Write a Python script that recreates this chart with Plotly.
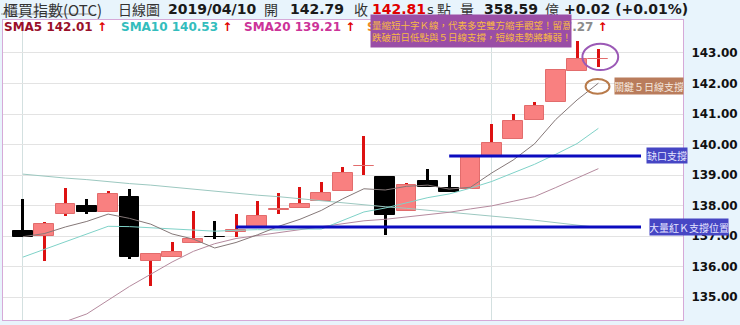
import plotly.graph_objects as go

# ---------------- data ----------------
open_ = [137.16, 137.00, 137.72, 137.98, 137.79, 138.28, 136.18, 136.31, 136.77, 136.98,
         137.13, 137.30, 137.87, 137.92, 138.15, 138.48, 139.28, 138.93, 137.82, 138.80,
         138.57, 138.54, 139.62, 140.18, 140.80, 141.39, 142.41, 142.79]
close = [136.97, 137.39, 138.05, 137.79, 138.38, 136.31, 136.41, 136.48, 136.90, 136.96,
         137.20, 137.66, 137.90, 138.05, 138.41, 139.07, 139.31, 137.69, 138.67, 138.61,
         138.44, 139.59, 140.05, 140.77, 141.26, 142.44, 142.80, 142.81]
high = [138.21, 137.46, 138.57, 138.21, 138.48, 138.54, 136.41, 136.80, 137.82, 137.49,
        137.72, 138.15, 138.41, 138.61, 138.77, 139.26, 140.28, 138.93, 138.74, 139.20,
        139.00, 139.59, 140.67, 141.00, 141.39, 142.48, 143.39, 143.13]
low = [136.97, 136.18, 137.66, 137.72, 137.79, 136.25, 135.36, 136.31, 136.77, 136.90,
       136.97, 137.30, 137.72, 137.92, 138.15, 138.48, 139.00, 137.03, 137.82, 138.61,
       138.44, 138.54, 139.62, 140.18, 140.80, 141.39, 142.41, 142.54]

sma5 = [136.98, 137.08, 137.30, 137.48, 137.72, 137.58, 137.39, 137.07, 136.90, 136.61,
        136.79, 137.04, 137.32, 137.55, 137.84, 138.22, 138.55, 138.51, 138.63, 138.67,
        138.54, 138.60, 139.07, 139.49, 140.02, 140.82, 141.46, 142.01]
sma10 = [136.31, 136.56, 136.81, 137.06, 137.32, 137.31, 137.27, 137.23, 137.19, 137.16,
         137.19, 137.21, 137.20, 137.23, 137.23, 137.50, 137.79, 137.92, 138.09, 138.26,
         138.38, 138.57, 138.79, 139.06, 139.35, 139.68, 140.03, 140.53]
sma20 = [133.60, 133.90, 134.20, 134.45, 134.90, 135.35, 135.75, 136.15, 136.50, 136.75,
         136.92, 137.02, 137.12, 137.22, 137.32, 137.42, 137.50, 137.55, 137.62, 137.71,
         137.78, 137.89, 137.99, 138.14, 138.29, 138.59, 138.91, 139.21]
sma60 = [139.03, 138.96, 138.90, 138.85, 138.78, 138.72, 138.67, 138.60, 138.54, 138.47,
         138.41, 138.34, 138.29, 138.22, 138.17, 138.10, 138.03, 137.96, 137.91, 137.85,
         137.79, 137.72, 137.66, 137.59, 137.52, 137.44, 137.36, 137.28]

x_idx = list(range(len(open_)))
month_starts = [0, 22]
y_ticks = [135, 136, 137, 138, 139, 140, 141, 142, 143]

support_big_red = 137.30
support_gap = 139.62

ma_labels = ["SMA5 142.01", "SMA10 140.53", "SMA20 139.21", "SMA60", "SMA120 137.27"]

# ---------------- layout geometry ----------------
W, H = 740, 325
L, R, T, B = 2, 54, 20, 5
PW, PH = W - L - R, H - T - B


def px_x(px):
    return (px - L) / PW


def px_y(py):
    return 1 - (py - T) / PH


UP_FILL, UP_LINE, UP_WICK = "#f98080", "#e26c6c", "#dd1111"
DN = "#000000"

up = [c >= o for o, c in zip(open_, close)]

fig = go.Figure()

# wicks
fig.add_trace(go.Bar(
    x=x_idx, base=low, y=[h - l for h, l in zip(high, low)], width=0.14,
    marker=dict(color=[UP_WICK if u else DN for u in up], line=dict(width=0)),
    hoverinfo="skip", showlegend=False))

# bodies
fig.add_trace(go.Bar(
    x=x_idx, base=[min(o, c) for o, c in zip(open_, close)],
    y=[abs(c - o) for o, c in zip(open_, close)], width=0.93,
    marker=dict(color=[UP_FILL if u else DN for u in up],
                line=dict(color=[UP_LINE if u else DN for u in up], width=1)),
    hoverinfo="skip", showlegend=False))

# moving averages
for vals, col in [(sma60, "#9cc8c0"), (sma20, "#b58a9e"), (sma10, "#7fd2c8"), (sma5, "#857878")]:
    fig.add_trace(go.Scatter(x=x_idx, y=vals, mode="lines", line=dict(color=col, width=1),
                             hoverinfo="skip", showlegend=False))

# support lines
fig.add_shape(type="line", x0=10, x1=29, y0=support_big_red, y1=support_big_red,
              line=dict(color="#0b0bbf", width=3), layer="above")
fig.add_shape(type="line", x0=20, x1=29, y0=support_gap, y1=support_gap,
              line=dict(color="#0b0bbf", width=3), layer="above")

# ellipses
fig.add_shape(type="circle", x0=26.25, x1=27.93, y0=142.44, y1=143.30,
              line=dict(color="#9b59b6", width=2), layer="above")
fig.add_shape(type="circle", x0=26.40, x1=27.52, y0=141.66, y1=142.15,
              line=dict(color="#b87a4a", width=2), layer="above")

# underline under title tab
fig.add_shape(type="line", xref="paper", yref="paper", x0=px_x(0), x1=px_x(92),
              y0=px_y(14), y1=px_y(14), line=dict(color="#9a9a9a", width=1))

ann = []
CJK = "Noto Sans CJK TC"
NUM = "DejaVu Sans"

# header
header = [
    ("櫃買指數(OTC)", 0, False, "#333333", 15, CJK),
    ("日線圖", 116, False, "#333333", 14, CJK),
    ("2019/04/10", 166, True, "#1a1a1a", 14, NUM),
    ("開", 263, False, "#333333", 14, CJK),
    ("142.79", 289, True, "#1a1a1a", 14, NUM),
    ("收", 353, False, "#333333", 14, CJK),
    ("142.81", 371, True, "#e00000", 14, NUM),
    ("s", 426, False, "#333333", 13, NUM),
    ("點", 437, False, "#333333", 14, CJK),
    ("量", 460, False, "#333333", 14, CJK),
    ("358.59", 484, True, "#1a1a1a", 14, NUM),
    ("億", 545, False, "#333333", 14, CJK),
    ("+0.02 (+0.01%)", 564, True, "#1a1a1a", 14, NUM),
]
for txt, x, bold, col, size, fam in header:
    ann.append(dict(text=txt, x=px_x(x), y=px_y(9), xref="paper", yref="paper",
                    xanchor="left", yanchor="middle", showarrow=False,
                    font=dict(family=fam, size=size, color=col,
                              weight="bold" if bold else "normal")))

# MA labels (the last two are mostly hidden by the comment box, as in the original)
arrow = "<span style='color:#e00000'> ↑</span>"
ma_label_pos = [(1, "#99102a"), (119, "#33bdbd"), (242, "#cc3399"), (366, "#f08a24"), (488, "#8c8c8c")]
for lab, (x, col) in zip(ma_labels, ma_label_pos):
    ann.append(dict(text=lab + arrow, x=px_x(x), y=px_y(27), xref="paper", yref="paper",
                    xanchor="left", yanchor="middle", showarrow=False,
                    font=dict(family=NUM, size=12, color=col, weight="bold")))

# purple comment box
ann.append(dict(text="量縮短十字Ｋ線，代表多空雙方縮手觀望！留意<br>跌破前日低點與５日線支撐，短線走勢將轉弱！",
                x=px_x(371), y=px_y(14), xref="paper", yref="paper", xanchor="left", yanchor="top",
                showarrow=False, bgcolor="#9a4ea6", width=198, height=30, borderpad=1,
                align="left", font=dict(family=CJK, size=9.5, color="#f7b844")))

# right side labels
boxes = [
    ("缺口支撐", 670, 155.5, 40, 15, "#4646c4", "#e4e4ff"),
    ("大量紅Ｋ支撐位置", 692, 227, 78, 16, "#4646c4", "#e4e4ff"),
    ("關鍵５日線支撐", 652, 86, 68, 16, "#b97c5c", "#f5e8de"),
]
for txt, cx, cy, w, h, bg, fc in boxes:
    ann.append(dict(text=txt, x=px_x(cx), y=px_y(cy), xref="paper", yref="paper",
                    xanchor="center", yanchor="middle", showarrow=False, bgcolor=bg,
                    width=w, height=h, borderpad=0, font=dict(family=CJK, size=10, color=fc)))

fig.update_layout(
    width=W, height=H, margin=dict(l=L, r=R, t=T, b=B),
    paper_bgcolor="#e8f4fc", plot_bgcolor="#ffffff",
    barmode="overlay", bargap=0, showlegend=False,
    annotations=ann,
    xaxis=dict(range=[-0.933, 30.97], tickvals=month_starts, showticklabels=False,
               showgrid=True, gridcolor="#d3e0e0", gridwidth=1, zeroline=False,
               showline=True, mirror=True, linecolor="#d6a9d8", linewidth=1, ticks=""),
    yaxis=dict(range=[134.25, 144.08], side="right", tickvals=y_ticks,
               ticktext=[f"{v:.2f}" for v in y_ticks], showgrid=True, gridcolor="#e3e3e3",
               zeroline=False, showline=True, mirror=True, linecolor="#d6a9d8", linewidth=1,
               ticks="", ticklabelstandoff=5,
               tickfont=dict(family=NUM, size=12, color="#111111", weight="bold")),
)

fig.write_html("out.html")
